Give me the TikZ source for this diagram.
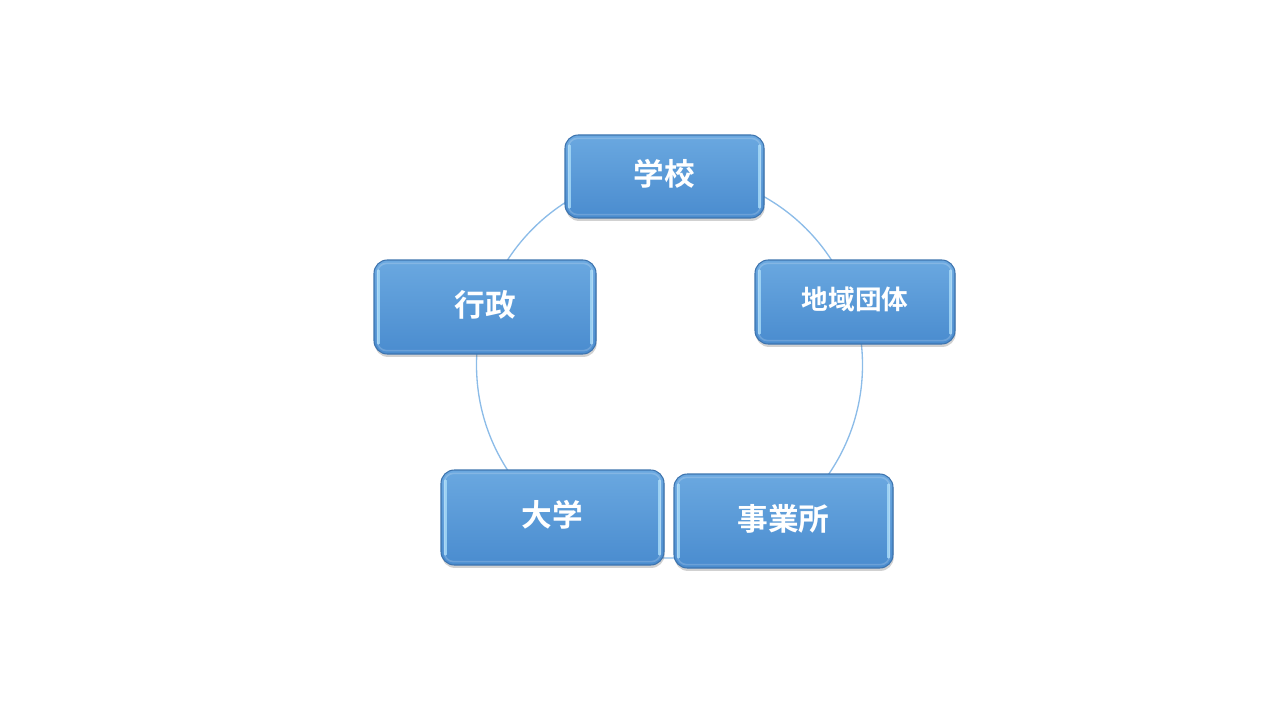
\documentclass[tikz,border=0pt]{standalone}
\usepackage{fontspec}
\newfontfamily\cjk{Noto Sans CJK JP Bold}
\usetikzlibrary{shadows}
\definecolor{boxtop}{HTML}{6AA8E0}
\definecolor{boxbot}{HTML}{4A8CCF}
\definecolor{boxborder}{HTML}{3E74AE}
\definecolor{bevel}{HTML}{A6DAF8}
\definecolor{ring}{HTML}{8CBCE8}
\newcommand{\up}[1]{\raisebox{6pt}{#1}}
\tikzset{
  boxstyle/.style={rounded corners=10pt, draw=boxborder, line width=0.8pt,
    top color=boxtop, bottom color=boxbot, text=white,
    font=\cjk\fontsize{23pt}{26pt}\selectfont,
    drop shadow={shadow xshift=0.5pt, shadow yshift=-2.2pt, opacity=0.3, fill=black!60},
    path picture={
      \draw[bevel, opacity=0.85, line width=2pt, line cap=round]
        ([xshift=3.2pt,yshift=-8pt]path picture bounding box.north west) --
        ([xshift=3.2pt,yshift=8pt]path picture bounding box.south west);
      \draw[bevel, opacity=0.85, line width=2pt, line cap=round]
        ([xshift=-3.2pt,yshift=-8pt]path picture bounding box.north east) --
        ([xshift=-3.2pt,yshift=8pt]path picture bounding box.south east);
      \draw[white, opacity=0.18, line width=1.2pt, rounded corners=7pt]
        ([xshift=2.5pt,yshift=-2.5pt]path picture bounding box.north west) rectangle
        ([xshift=-2.5pt,yshift=2.5pt]path picture bounding box.south east);
    }},
  ringstyle/.style={draw=ring, line width=1pt}
}
\begin{document}
\begin{tikzpicture}[x=0.75pt,y=-0.75pt]
\useasboundingbox (0,0) rectangle (1280,720);
\coordinate (c) at (669.5,365);
\draw[ringstyle] (c) circle [radius=144.75pt];
\node[boxstyle, minimum width=149.25pt, minimum height=62.25pt] (school) at (664.5,176.5) {\up{学校}};
\node[boxstyle, minimum width=150pt, minimum height=63pt, font=\cjk\fontsize{20pt}{24pt}\selectfont] (community) at (855,302) {\up{地域団体}};
\node[boxstyle, minimum width=164.25pt, minimum height=70.5pt] (business) at (783.5,521) {\up{事業所}};
\node[boxstyle, minimum width=167.25pt, minimum height=71.25pt] (univ) at (552.5,517.5) {\up{大学}};
\node[boxstyle, minimum width=166.5pt, minimum height=70.5pt] (admin) at (485,307) {\up{行政}};
\end{tikzpicture}
\end{document}
